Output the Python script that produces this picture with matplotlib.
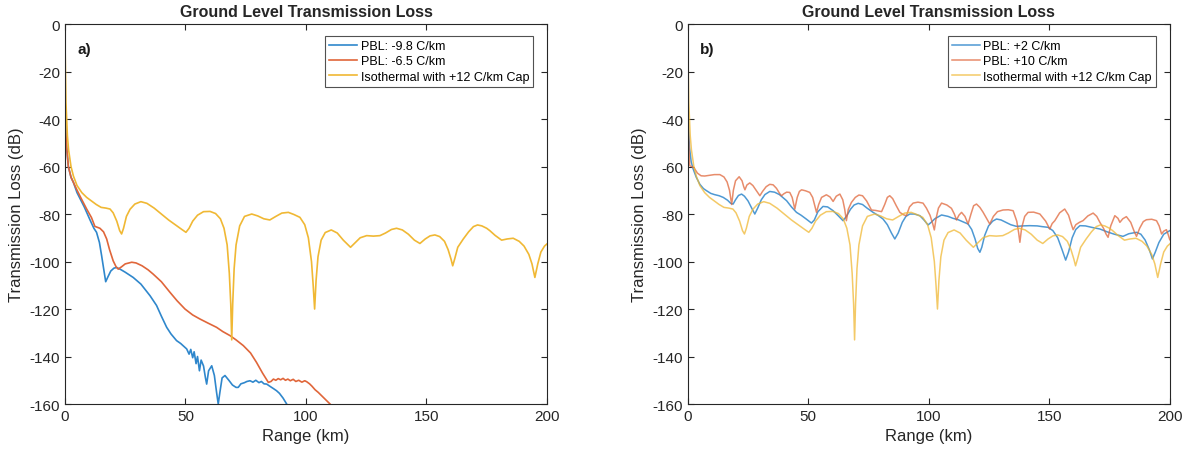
import matplotlib
matplotlib.use("Agg")
import matplotlib.pyplot as plt

plt.rcParams['font.family'] = ['Liberation Sans', 'DejaVu Sans']
plt.rcParams['axes.unicode_minus'] = False

# ---- data (range km, transmission loss dB) ----
iso_r = [0, 0.2, 0.4, 0.7, 1.0, 1.5, 2.5, 3.5, 5, 7, 9, 11, 13, 15, 17, 18.7, 20, 21.5, 22.7, 23.5, 24.3,
         25.5, 27, 29, 31.5, 34, 37, 40, 43, 46.3, 48.5, 50.2, 51.5, 53, 55, 57.5, 60.2, 62.5, 64.5, 66,
         67.3, 68.2, 68.8, 69.2, 69.6, 70.2, 71, 72.5, 74.5, 77.5, 80, 82.5, 85, 87.5, 90, 92.7, 95,
         97.5, 99.5, 101, 102.3, 103, 103.6, 104.2, 105, 106.3, 108, 110.5, 113, 115.5, 118.5, 120.5,
         122.5, 125.2, 128, 130.7, 133, 135.5, 137.6, 140, 142.5, 145, 147.3, 149.5, 151.5, 153.5,
         155.5, 157.5, 159, 160.2, 160.9, 161.7, 163, 165.3, 167.5, 169.5, 171.2, 173, 175, 176.3,
         178.5, 181.2, 183.5, 186, 188.5, 190.5, 192.5, 193.8, 195, 196.2, 197.5, 199, 200]
iso_tl = [-7, -20, -33, -40, -47, -53, -60, -64, -68, -71, -73, -74.5, -76, -77.2, -77.5, -77.9, -79.5,
          -83, -87, -88.4, -86, -81, -78, -75.8, -74.8, -75.5, -77.5, -80, -82.5, -84.9, -86.5, -87.7,
          -86, -83, -80.5, -79, -78.9, -79.8, -82, -86, -93, -105, -118, -133, -118, -103, -93, -85,
          -81, -80, -80.8, -82, -82.5, -81, -79.6, -79.3, -80.2, -81.4, -84.5, -90, -100, -110, -120,
          -108, -98, -91, -87.8, -86.7, -88, -91, -94, -92, -90, -89.1, -89.3, -89.1, -88, -86.5, -86,
          -86.7, -88.5, -91, -92.4, -90.5, -89.2, -88.8, -89.5, -91.5, -95, -99, -101.8, -99, -94,
          -90.5, -87.5, -85.3, -84.6, -85, -86, -87, -89, -91, -90.5, -90.2, -91.5, -93.5, -97, -101,
          -106.7, -101, -96, -93.5, -92.6]

a1_r = [0, 0.3, 0.7, 1.4, 2.5, 3.5, 5, 6.5, 8, 10.4, 12, 13.1, 14.3, 15.2, 16.2, 16.9, 17.8, 19, 20.3,
        21.4, 23, 25, 28.3, 31.5, 35.3, 38, 40, 42.2, 44, 46.3, 48, 50.5, 51.5, 52.2, 53, 53.6, 54.4, 55,
        55.8, 56.5, 57.5, 58.3, 58.8, 59.6, 60.9, 62, 62.9, 63.6, 64.3, 65.2, 66.4, 68, 69.5, 71, 71.9,
        73, 74.5, 75.5, 76.8, 78, 79.2, 80.5, 81.5, 82.6, 83.7, 85, 86.5, 87.8, 89, 90.5, 92]
a1_tl = [-35, -45, -52, -60, -64.5, -66.7, -71, -74, -77, -82.5, -86, -87.7, -92, -97.5, -104, -108.5,
         -106.5, -104, -102.8, -102.5, -103.3, -104.5, -106.7, -109.5, -114.4, -118.5, -123, -127.7,
         -130.5, -133.3, -134.5, -136.8, -139, -137, -140.5, -138, -143, -140, -146, -141.5, -144, -149,
         -151.6, -146, -143.9, -148, -155, -160, -155, -149, -148, -150, -152, -153, -153, -151.5, -151,
         -150.5, -150.2, -150.8, -150, -151, -150.5, -151.5, -151.6, -152.5, -153.5, -154.4, -155.5,
         -157.5, -160]

a2_r = [0, 0.3, 0.7, 1.4, 2.5, 4.8, 6.5, 9, 11, 12.4, 14.5, 16, 17.3, 18.5, 20, 21.2, 22.1, 23.5, 25,
        27.7, 29.5, 32, 34.5, 36.6, 40, 43.6, 46.5, 49.8, 53, 56, 59.5, 62.9, 65.5, 68.5, 71, 74, 77,
        79.5, 82, 84.4, 85.5, 86.5, 87.5, 88.5, 89.5, 90.5, 91.5, 92.5, 93.5, 94.7, 95.8, 97, 98.3, 99.5,
        100.3, 101.5, 102.5, 103.8, 105.1, 106.5, 108, 110]
a2_tl = [-35, -45, -52, -60, -64.5, -69.5, -73, -77.9, -81.5, -85.2, -86, -87.5, -90.5, -95, -99.7,
         -102.2, -103.2, -102.2, -101, -100.3, -100.6, -101.8, -103.5, -105.3, -108.5, -113, -116.5,
         -120, -122.5, -124.2, -126, -127.7, -129.5, -131.2, -133, -135.4, -138.5, -142.5, -147, -150.9,
         -150.5, -149.5, -150, -149.3, -149.8, -149.2, -150, -149.5, -150.2, -149.6, -150.5, -150,
         -150.8, -150.2, -150.6, -151.5, -152.5, -154, -155.1, -156.5, -158, -160]

b1_r = [0, 0.3, 0.7, 1.4, 2.2, 3.5, 5, 6.5, 7.8, 9.5, 11, 13, 14.7, 16.5, 17.8, 18.8, 19.8, 21, 22.3,
        23.5, 25, 26.5, 27.8, 29, 30.5, 32, 34, 36, 38, 41, 43, 45.1, 47, 49, 51.3, 52.5, 54, 56.1, 58,
        60.3, 62.5, 64.4, 65.8, 67.5, 69, 70.7, 72.5, 74.5, 76.9, 79, 81, 82.8, 84.5, 85.9, 87.3, 89,
        90.5, 92.1, 94, 96.3, 98, 99.7, 101, 102.5, 105.3, 108, 110, 112.2, 114, 116.3, 117.8, 119.2,
        120.3, 121.2, 122, 123.2, 124.8, 126.5, 128.1, 130, 132, 134, 136.4, 139, 141.9, 145, 147,
        149.5, 151.5, 153.5, 155.3, 156.8, 158, 159.5, 161, 162.7, 165, 168, 171, 174, 177, 180.6,
        183, 186.2, 188, 189.8, 191.5, 192.8, 194, 195.5, 197.5, 200]
b1_tl = [-35, -45, -52, -58, -61, -64.5, -67.5, -69.3, -70.2, -71.3, -71.8, -72.3, -73, -74.2, -75.5,
         -75.8, -74, -72.2, -71.6, -72.5, -74.5, -77.5, -80, -77.5, -74, -71.8, -70.5, -70.8, -71.8,
         -74.4, -77, -79.3, -80.5, -82, -83.8, -82.5, -79, -76.8, -77, -78.6, -80.8, -82.8, -81, -78,
         -76.2, -75.5, -76, -77.6, -79.3, -80.6, -82.1, -84.5, -88, -90.5, -88, -83.5, -81, -80, -80,
         -80.7, -82.5, -84.6, -83.5, -82, -80.4, -81, -81.8, -82.4, -83.2, -84.2, -86.5, -90.5, -94.5,
         -96.1, -94, -89, -85, -83, -82.1, -82.5, -83.5, -84.5, -85.2, -85, -84.9, -85, -85.3, -85.6,
         -87, -90, -95, -99.4, -96, -90, -86.5, -84.9, -85, -85.7, -86.3, -87.5, -88.5, -89.4, -88.3,
         -87.7, -88.5, -91, -95, -98.9, -96, -92, -88.5, -87]

b2_r = [0, 0.3, 0.6, 0.8, 1.5, 2.5, 4, 5.5, 7, 9.1, 11, 13.3, 15, 16.3, 17.3, 18.2, 18.9, 19.8, 21.3,
        22.5, 23.2, 23.7, 24.5, 25.7, 27, 28.5, 29.9, 31, 32.5, 34, 35.4, 36.8, 38.2, 38.9, 39.8, 41,
        42.3, 43.3, 44.4, 45.4, 46.3, 47.2, 48.8, 50.6, 51.8, 52.7, 53.4, 54.3, 55.5, 57.5, 59, 60.3,
        61.6, 63.1, 64.3, 65.1, 65.8, 66.6, 67.9, 69.5, 71, 72.5, 74.2, 76.2, 78, 80.4, 81.7, 82.8,
        83.8, 85, 86.5, 88, 89.5, 90.7, 92, 93.5, 95.5, 97.6, 99, 100.5, 101.6, 102.3, 103, 104, 105.3,
        107.5, 109.4, 110.6, 111.5, 112.5, 113.6, 115, 116.3, 117.5, 118.6, 119.8, 121.2, 122.5, 123.5,
        125.3, 126.8, 128.5, 130.8, 133, 135, 136.5, 137.3, 137.8, 138.5, 139.8, 141.2, 143.5, 146.1,
        148.5, 150.2, 151.2, 152.3, 154.3, 156.4, 158, 159.2, 159.9, 161, 162.5, 164, 166, 168.2,
        169.7, 171, 172.5, 173.6, 174.4, 175.5, 177.2, 178.5, 179.3, 180.5, 182, 183.8, 185.3, 186.2,
        187.5, 189, 190.3, 192.5, 194.5, 195.6, 196.6, 197.5, 198.6, 199.3, 200]
b2_tl = [-35, -47, -56, -59.6, -60, -60.4, -62.8, -63.9, -64, -63.7, -63.4, -63.4, -64.4, -66.5, -70,
         -76, -70, -66, -64.3, -66, -68.5, -69.8, -67.8, -66.9, -68, -70.2, -72.3, -70.5, -68.5, -67.5,
         -67.7, -69.2, -71.5, -72.3, -71.5, -70.8, -70.9, -73, -77.9, -73, -70.5, -69.8, -70.2, -70.9,
         -73, -76.5, -79.3, -76, -73, -71.9, -72.8, -74.7, -72.5, -71.6, -74, -78, -82.8, -78, -75.1,
         -73, -72, -72.3, -74.5, -78.3, -78.5, -79, -76, -73, -72.3, -73.5, -76.5, -79.3, -80.3, -80.7,
         -77, -75.4, -75, -75.4, -77.5, -80.5, -84, -86.7, -82, -77.5, -75.4, -76.2, -77.6, -80, -82.5,
         -80.5, -79.3, -81, -84.2, -80, -76.5, -75.8, -77.2, -79.2, -81, -84.2, -81, -79, -78.3, -78.2,
         -78.6, -83, -88, -91.9, -86, -81, -79.3, -79.2, -80, -83, -86.3, -84, -82.8, -79.5, -77.9,
         -80.5, -84.5, -86.6, -84.5, -83.5, -82.8, -80.8, -79.6, -81, -83.5, -86, -88.5, -89.8, -85,
         -80.7, -81.8, -83.5, -82, -81.1, -83.5, -87.5, -89.4, -86, -83.2, -82.4, -82.2, -82.8, -85,
         -88.4, -87.2, -86.6, -88.5, -90.8]

labels_a = ['PBL: -9.8 C/km', 'PBL: -6.5 C/km', 'Isothermal with +12 C/km Cap']
labels_b = ['PBL: +2 C/km', 'PBL: +10 C/km', 'Isothermal with +12 C/km Cap']
xticks = [0, 50, 100, 150, 200]
yticks = [0, -20, -40, -60, -80, -100, -120, -140, -160]

c_blue = '#2f87cc'
c_orange = '#e0663a'
c_yellow = '#f0b834'

fig = plt.figure(figsize=(11.9, 4.56), dpi=100)
ax1 = fig.add_axes([0.0546, 0.1118, 0.405, 0.8333])
ax2 = fig.add_axes([0.578, 0.1118, 0.405, 0.8333])


def style(ax, tag, with_ylabel=True):
    ax.set_xlim(0, 200)
    ax.set_ylim(-160, 0)
    ax.set_xticks(xticks)
    ax.set_yticks(yticks)
    ax.tick_params(direction='in', top=True, right=True, labelsize=11, colors='#262626',
                   length=4, width=0.8)
    for s in ax.spines.values():
        s.set_color('#262626')
        s.set_linewidth(0.8)
    ax.set_xlabel('Range (km)', fontsize=12, color='#262626')
    if with_ylabel:
        ax.set_ylabel('Transmission Loss (dB)', fontsize=12, color='#262626')
    ax.set_title('Ground Level Transmission Loss', fontsize=11.5, fontweight='bold', color='#262626')
    ax.text(0.025, 0.935, tag, transform=ax.transAxes, fontsize=11, fontweight='bold',
            va='center', ha='left', color='#1a1a1a')


ax1.plot(a1_r, a1_tl, color=c_blue, lw=1.2, label=labels_a[0])
ax1.plot(a2_r, a2_tl, color=c_orange, lw=1.2, label=labels_a[1])
ax1.plot(iso_r, iso_tl, color=c_yellow, lw=1.2, label=labels_a[2])
style(ax1, 'a)')
leg = ax1.legend(loc='upper right', fontsize=9, frameon=True, fancybox=False, handlelength=2.2,
                 handletextpad=0.3, borderpad=0.35, labelspacing=0.25, bbox_to_anchor=(0.985, 0.985))
leg.get_frame().set_edgecolor('#262626')
leg.get_frame().set_linewidth(0.8)

ax2.plot(b1_r, b1_tl, color=c_blue, lw=1.1, alpha=0.85, label=labels_b[0])
ax2.plot(b2_r, b2_tl, color=c_orange, lw=1.1, alpha=0.75, label=labels_b[1])
ax2.plot(iso_r, iso_tl, color=c_yellow, lw=1.1, alpha=0.75, label=labels_b[2])
style(ax2, 'b)')
leg = ax2.legend(loc='upper right', fontsize=9, frameon=True, fancybox=False, handlelength=2.2,
                 handletextpad=0.3, borderpad=0.35, labelspacing=0.25, bbox_to_anchor=(0.985, 0.985))
leg.get_frame().set_edgecolor('#262626')
leg.get_frame().set_linewidth(0.8)

fig.savefig('out.png', dpi=100)
